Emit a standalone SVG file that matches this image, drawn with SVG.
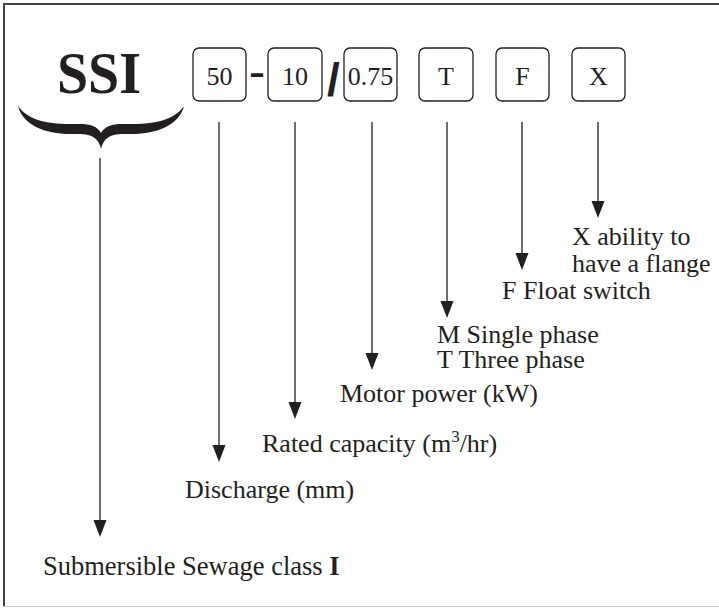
<svg xmlns="http://www.w3.org/2000/svg" width="719" height="609" viewBox="0 0 719 609">
<style>
  .t { font-family: "Liberation Serif", "Times New Roman", serif; font-size: 26px; fill: #231f20; }
  .bx { fill: #ffffff; stroke: #231f20; stroke-width: 1.3; }
  .conn line { stroke: #231f20; stroke-width: 1.3; fill: none; }
  .sym { font-family: "Liberation Sans", Arial, sans-serif; font-weight: bold; fill: #231f20; }
</style>
<defs>
  <marker id="ah" markerUnits="userSpaceOnUse" markerWidth="18" markerHeight="14" refX="12" refY="6.5" orient="auto">
    <path d="M0,0 L17,6.5 L0,13 Z" fill="#231f20"/>
  </marker>
</defs>
<rect x="0" y="0" width="719" height="609" fill="#ffffff"/>
<g id="frame">
  <line x1="3" y1="4" x2="719" y2="4" stroke="#444" stroke-width="2"/>
  <line x1="4" y1="3" x2="4" y2="606" stroke="#444" stroke-width="2"/>
  <line x1="3" y1="606.5" x2="719" y2="606.5" stroke="#ccc" stroke-width="1"/>
</g>
<g id="ssi">
  <text x="99" y="93" text-anchor="middle" style="font-family:'Liberation Serif','Times New Roman',serif;font-weight:bold;font-size:60px;fill:#231f20" textLength="84" lengthAdjust="spacingAndGlyphs">SSI</text>
  <path d="M18,106 C23,125 45,134 70,134 L80,134 C92,134 99,139 101,149 C103,139 110,134 122,134 L132,134 C157,134 179,125 184,106 C175,119 157,124 132,124 L122,124 C112,124 105,126 101,133 C97,126 90,124 80,124 L70,124 C45,124 27,119 18,106 Z" fill="#231f20"/>
</g>
<g id="box-50">
  <rect class="bx" x="193" y="48" width="53" height="53" rx="6"/>
  <text class="t" x="219.5" y="85" text-anchor="middle">50</text>
</g>
<text class="sym" x="249" y="83" style="font-size:32px" textLength="16" lengthAdjust="spacingAndGlyphs">-</text>
<g id="box-10">
  <rect class="bx" x="268" y="48" width="54" height="53" rx="6"/>
  <text class="t" x="295" y="85" text-anchor="middle">10</text>
</g>
<text class="sym" x="327" y="96" style="font-size:46px">/</text>
<g id="box-075">
  <rect class="bx" x="344" y="48" width="53" height="53" rx="6"/>
  <text class="t" x="370.5" y="85" text-anchor="middle">0.75</text>
</g>
<g id="box-T">
  <rect class="bx" x="419" y="48" width="54" height="53" rx="6"/>
  <text class="t" x="446" y="85" text-anchor="middle">T</text>
</g>
<g id="box-F">
  <rect class="bx" x="496" y="48" width="53" height="53" rx="6"/>
  <text class="t" x="522.5" y="85" text-anchor="middle">F</text>
</g>
<g id="box-X">
  <rect class="bx" x="572" y="48" width="53" height="53" rx="6"/>
  <text class="t" x="598.5" y="85" text-anchor="middle">X</text>
</g>
<g class="conn" id="connectors">
  <line x1="100" y1="158" x2="100" y2="532" marker-end="url(#ah)"/>
  <line x1="219" y1="122" x2="219" y2="457" marker-end="url(#ah)"/>
  <line x1="295" y1="122" x2="295" y2="414" marker-end="url(#ah)"/>
  <line x1="372" y1="122" x2="372" y2="365" marker-end="url(#ah)"/>
  <line x1="447" y1="122" x2="447" y2="313" marker-end="url(#ah)"/>
  <line x1="522" y1="122" x2="522" y2="265" marker-end="url(#ah)"/>
  <line x1="598" y1="122" x2="598" y2="213" marker-end="url(#ah)"/>
</g>
<g id="label-x">
  <text class="t" x="572" y="245">X ability to</text>
  <text class="t" x="572" y="272">have a flange</text>
</g>
<g id="label-f">
  <text class="t" x="502" y="299">F Float switch</text>
</g>
<g id="label-t">
  <text class="t" x="437" y="343">M Single phase</text>
  <text class="t" x="437" y="368">T Three phase</text>
</g>
<g id="label-motor">
  <text class="t" x="340" y="402">Motor power (kW)</text>
</g>
<g id="label-rated">
  <text class="t" x="262" y="452">Rated capacity (m<tspan dy="-10" style="font-size:17px">3</tspan><tspan dy="10">/hr)</tspan></text>
</g>
<g id="label-discharge">
  <text class="t" x="185" y="498">Discharge (mm)</text>
</g>
<g id="label-ssi">
  <text class="t" x="43" y="575" style="font-size:26.5px">Submersible Sewage class <tspan font-weight="bold">I</tspan></text>
</g>
</svg>
